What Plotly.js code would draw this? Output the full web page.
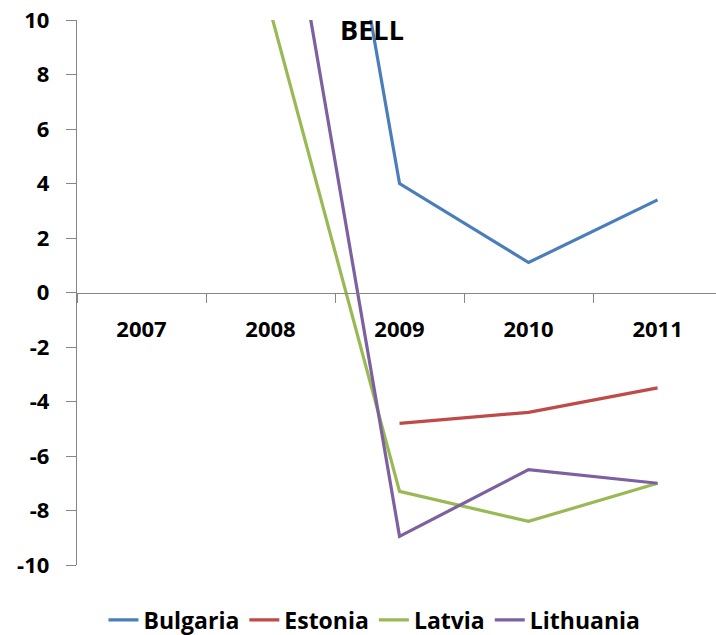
<!DOCTYPE html>
<html>
<head>
<meta charset="utf-8">
<script src="https://cdn.plot.ly/plotly-3.0.1.min.js"></script>
<style>
html,body{margin:0;padding:0;background:#fff;}
#chart{width:716px;height:635px;}
</style>
</head>
<body>
<div id="chart"></div>
<script>
const years = ["2007", "2008", "2009", "2010", "2011"];
const bulgaria = [null, 31.0, 4.0, 1.1, 3.4];
const estonia = [null, null, -4.8, -4.4, -3.5];
const latvia = [null, 10.3, -7.3, -8.4, -7.0];
const lithuania = [null, 18.6, -8.95, -6.5, -7.0];
const seriesNames = ["Bulgaria", "Estonia", "Latvia", "Lithuania"];
const colors = ["#4a7ebb", "#be4b48", "#98b954", "#7d60a0"];
const yTicks = [-10, -8, -6, -4, -2, 0, 2, 4, 6, 8, 10];
const yTickLabels = ["-10", "-8", "-6", "-4", "-2", "0", "2", "4", "6", "8", "10"];

const allSeries = [bulgaria, estonia, latvia, lithuania];
const traces = allSeries.map((vals, i) => ({
  type: "scatter",
  mode: "lines",
  x: years,
  y: vals,
  name: seriesNames[i],
  line: {color: colors[i], width: 3.2},
  connectgaps: false,
  hoverinfo: "x+y+name"
}));

const font = {family: "Open Sans, Liberation Sans, sans-serif", color: "#000"};

const layout = {
  width: 716,
  height: 635,
  margin: {l: 77, r: 0, t: 20, b: 70},
  paper_bgcolor: "#fff",
  plot_bgcolor: "#fff",
  font: font,
  title: {
    text: "BELL",
    font: {family: font.family, size: 27, weight: "bold", color: "#000"},
    x: 372 / 716,
    xanchor: "center",
    y: 1 - 31 / 635,
    yanchor: "middle"
  },
  xaxis: {
    type: "category",
    range: [-0.5, 4.453],
    anchor: "free",
    position: 0.5,
    showline: true,
    linecolor: "#868686",
    linewidth: 1.3,
    ticks: "outside",
    tickson: "boundaries",
    ticklen: 9,
    tickcolor: "#868686",
    showgrid: false,
    zeroline: false,
    tickfont: {family: font.family, size: 22, weight: "bold", color: "#000"},
    ticklabelstandoff: 17,
    fixedrange: true
  },
  yaxis: {
    range: [-10, 10],
    tickvals: yTicks,
    ticktext: yTickLabels,
    showline: true,
    linecolor: "#868686",
    linewidth: 1.3,
    ticks: "outside",
    ticklen: 10,
    tickcolor: "#868686",
    showgrid: false,
    zeroline: false,
    tickfont: {family: font.family, size: 22, weight: "bold", color: "#000"},
    ticklabelstandoff: 12,
    fixedrange: true
  },
  showlegend: true,
  legend: {
    orientation: "h",
    xref: "container",
    yref: "container",
    x: 0.523,
    xanchor: "center",
    y: 1 - 620 / 635,
    yanchor: "middle",
    font: {family: font.family, size: 23, weight: "bold", color: "#000"},
    tracegroupgap: 0
  }
};

Plotly.newPlot("chart", traces, layout, {displayModeBar: false, staticPlot: true});
</script>
</body>
</html>
